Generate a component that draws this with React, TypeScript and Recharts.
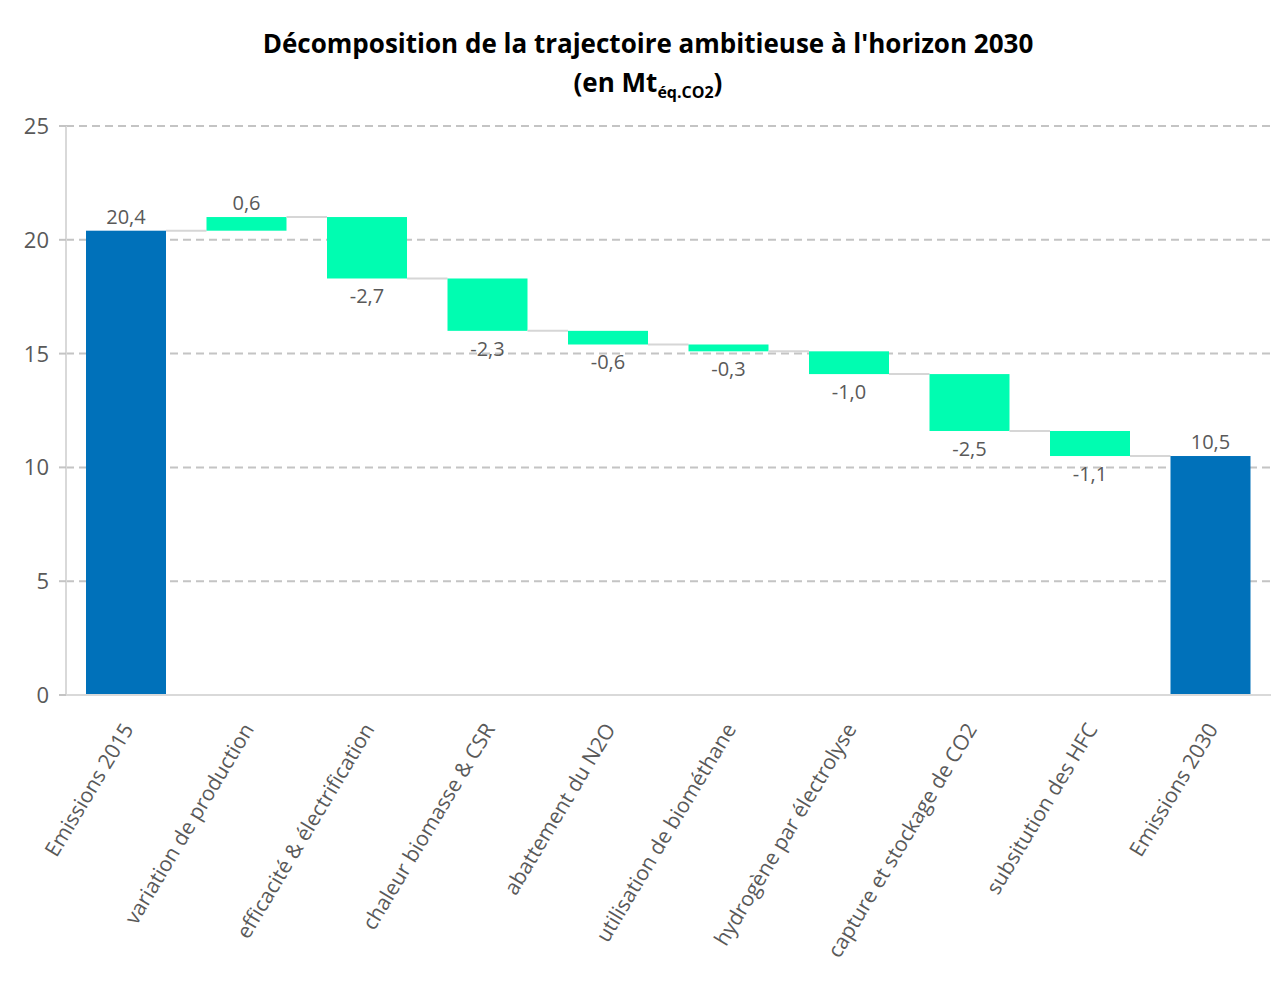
import React from 'react';
import { BarChart, Bar, XAxis, YAxis, CartesianGrid, Cell } from 'recharts';

const categories = [
  'Emissions 2015',
  'variation de production',
  'efficacité & électrification',
  'chaleur biomasse & CSR',
  'abattement du N2O',
  'utilisation de biométhane',
  'hydrogène par électrolyse',
  'capture et stockage de CO2',
  'subsitution des HFC',
  'Emissions 2030',
];
const values = [20.4, 0.6, -2.7, -2.3, -0.6, -0.3, -1.0, -2.5, -1.1, 10.5];
const kinds = ['total', 'delta', 'delta', 'delta', 'delta', 'delta', 'delta', 'delta', 'delta', 'total'];
const yTicks = [0, 5, 10, 15, 20, 25];

const BLUE = '#0071BA';
const GREEN = '#00FDB1';
const TEXT = '#595959';
const FONT = '"Open Sans", "Noto Sans", sans-serif';

const CHART_W = 1287;
const CHART_H = 981;
const MARGIN = { top: 126, right: 16, bottom: 36, left: 0 };
const YAXIS_W = 66;
const BAND = (CHART_W - MARGIN.left - MARGIN.right - YAXIS_W) / categories.length;

let running = 0;
const data = categories.map((name, i) => {
  const v = values[i];
  let low: number, high: number;
  if (kinds[i] === 'total') {
    low = 0;
    high = v;
    running = v;
  } else {
    const start = running;
    const end = running + v;
    low = Math.min(start, end);
    high = Math.max(start, end);
    running = end;
  }
  return { name, range: [low, high], value: v, kind: kinds[i] };
});

const fmt = (v: number) => v.toFixed(1).replace('.', ',');

const BarShape = (props: any) => {
  const { x, y, width, height, index, fill } = props;
  const top = Math.min(y, y + height);
  const h = Math.abs(height);
  const d = data[index];
  const up = d.kind === 'total' || d.value >= 0;
  const level = up ? top : top + h;
  const gap = BAND - width;
  const cx = x + width / 2;
  return (
    <g>
      <rect x={x} y={top} width={width} height={h} fill={fill} />
      {index < data.length - 1 && (
        <line x1={x + width} x2={x + width + gap} y1={level} y2={level} stroke="#d6d6d6" strokeWidth={2} />
      )}
      <text
        x={cx}
        y={up ? top - 7 : top + h + 25}
        textAnchor="middle"
        fontSize={20}
        fill={TEXT}
        fontFamily={FONT}
      >
        {fmt(d.value)}
      </text>
    </g>
  );
};

const XTick = (props: any) => {
  const { x, y, payload } = props;
  return (
    <g transform={`translate(${x + 8},${y + 26})`}>
      <text x={0} y={0} textAnchor="end" transform="rotate(-59)" fontSize={21} fill={TEXT} fontFamily={FONT}>
        {payload.value}
      </text>
    </g>
  );
};

const YTick = (props: any) => {
  const { x, y, payload } = props;
  return (
    <text x={x - 8} y={y} dy={8} textAnchor="end" fontSize={22} fill={TEXT} fontFamily={FONT}>
      {payload.value}
    </text>
  );
};

export default function App() {
  return (
    <div style={{ position: 'relative', margin: -8, width: CHART_W, height: CHART_H, background: '#fff', overflow: 'hidden' }}>
      <div
        style={{
          position: 'absolute',
          left: 5,
          top: 7,
          width: CHART_W - 5,
          height: 971,
          border: '1px solid #d9d9d9',
          boxSizing: 'border-box',
        }}
      />
      <div
        style={{
          position: 'absolute',
          left: 0,
          top: 24,
          width: 1296,
          textAlign: 'center',
          fontFamily: FONT,
          fontWeight: 700,
          fontSize: 26,
          color: '#000',
          lineHeight: '39px',
        }}
      >
        <div>Décomposition de la trajectoire ambitieuse à l'horizon 2030</div>
        <div>
          (en Mt<sub style={{ fontSize: 16, verticalAlign: '-6px', lineHeight: 0 }}>éq.CO2</sub>)
        </div>
      </div>
      <div style={{ position: 'absolute', left: 0, top: 0 }}>
        <BarChart width={CHART_W} height={CHART_H} data={data} margin={MARGIN} barSize={80}>
          <CartesianGrid vertical={false} stroke="#c4c4c4" strokeWidth={2} strokeDasharray="8 5" />
          <XAxis
            dataKey="name"
            interval={0}
            height={250}
            tick={<XTick />}
            tickLine={false}
            axisLine={{ stroke: '#d9d9d9', strokeWidth: 2 }}
          />
          <YAxis
            width={YAXIS_W}
            domain={[0, 25]}
            ticks={yTicks}
            interval={0}
            tickLine={{ stroke: '#c4c4c4', strokeWidth: 2 }}
            tickSize={7}
            axisLine={{ stroke: '#d9d9d9', strokeWidth: 2 }}
            tick={<YTick />}
          />
          <Bar dataKey="range" shape={<BarShape />} isAnimationActive={false}>
            {data.map((d, i) => (
              <Cell key={i} fill={d.kind === 'total' ? BLUE : GREEN} />
            ))}
          </Bar>
        </BarChart>
      </div>
    </div>
  );
}
